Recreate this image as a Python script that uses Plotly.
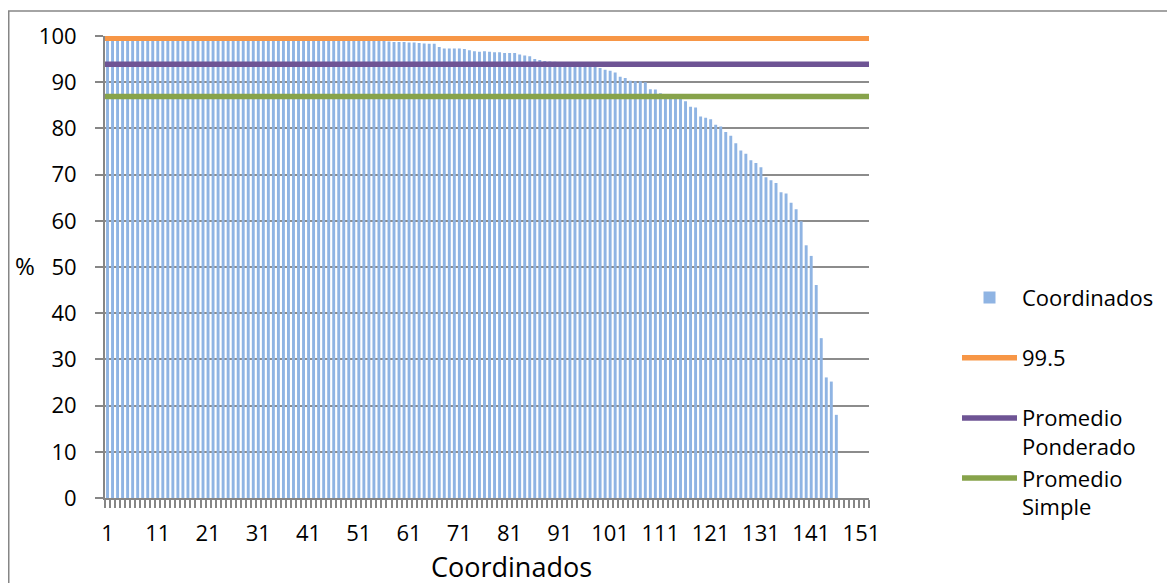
import plotly.graph_objects as go

# ---- data ----
categories = list(range(1, 153))
coordinados = [
    99.2, 99.2, 99.1, 99.1, 99.1, 99.1, 99.1, 99.1, 99.0, 99.0,
    99.0, 99.0, 99.0, 99.0, 99.0, 99.0, 99.0, 99.0, 99.0, 99.0,
    99.0, 99.0, 99.0, 99.0, 99.0, 99.0, 99.0, 99.0, 99.0, 99.0,
    99.0, 99.0, 99.0, 99.0, 98.9, 98.9, 98.9, 98.9, 98.9, 98.9,
    98.9, 98.9, 98.9, 98.9, 98.9, 98.9, 98.9, 98.9, 98.9, 98.9,
    98.9, 98.9, 98.9, 98.9, 98.9, 98.9, 98.8, 98.7, 98.7, 98.7,
    98.6, 98.6, 98.5, 98.4, 98.3, 98.3, 97.6, 97.3, 97.3, 97.3,
    97.3, 97.2, 96.9, 96.7, 96.6, 96.7, 96.6, 96.5, 96.5, 96.3,
    96.3, 96.3, 96.0, 95.8, 95.6, 95.0, 94.8, 94.6, 94.5, 94.4,
    94.2, 94.1, 94.0, 93.9, 93.8, 93.7, 93.5, 93.4, 93.1, 92.7,
    92.5, 92.1, 91.2, 90.9, 90.3, 90.2, 90.2, 90.0, 88.5, 88.4,
    87.6, 87.4, 87.0, 86.8, 86.5, 85.9, 84.7, 84.5, 82.6, 82.3,
    82.0, 80.8, 80.4, 79.2, 78.4, 76.8, 75.2, 74.5, 73.1, 72.5,
    71.6, 69.4, 68.8, 68.2, 66.2, 65.9, 63.9, 62.5, 59.9, 54.7,
    52.4, 46.1, 34.6, 26.1, 25.2, 18.0,
]
ref_value = 99.5
promedio_ponderado = 93.9
promedio_simple = 86.9
x_tick_labels = list(range(1, 152, 10))
y_tick_labels = list(range(0, 101, 10))

FONT = "Open Sans"
x_lo = categories[0] - 0.5
x_hi = categories[-1] + 0.5
line_x = [x_lo, x_hi]

fig = go.Figure()
fig.add_trace(go.Bar(
    x=categories[:len(coordinados)], y=coordinados, name="Coordinados<br>&nbsp;",
    marker=dict(color="#8FB4E3", line=dict(width=0)),
    legendgroup="a",
))
fig.add_trace(go.Scatter(
    x=line_x, y=[ref_value] * 2, mode="lines", name="99.5<br>&nbsp;",
    line=dict(color="#F79646", width=5.5), legendgroup="b",
))
fig.add_trace(go.Scatter(
    x=line_x, y=[promedio_ponderado] * 2, mode="lines", name="Promedio<br>Ponderado",
    line=dict(color="#6E5494", width=5.5), legendgroup="c",
))
fig.add_trace(go.Scatter(
    x=line_x, y=[promedio_simple] * 2, mode="lines", name="Promedio<br>Simple",
    line=dict(color="#87A34B", width=5.5), legendgroup="d",
))

W, H = 1175, 583
L, T = 97, 26
R = W - 861
B = H - 490.5
pw, ph = W - L - R, H - T - B

def px_x(p):
    return (p - L) / pw

def px_y(p):
    return (H - B - p) / ph

fig.update_layout(
    width=W, height=H,
    margin=dict(l=L, r=R, t=T, b=B, pad=0),
    paper_bgcolor="white", plot_bgcolor="white",
    bargap=0.42,
    font=dict(family=FONT, size=22, color="black"),
    showlegend=True,
    legend=dict(
        x=px_x(949), y=px_y(268), xanchor="left", yanchor="top",
        font=dict(family=FONT, size=22, color="black"),
        traceorder="grouped", tracegroupgap=0, itemwidth=55,
        valign="top", bgcolor="rgba(0,0,0,0)",
    ),
    xaxis=dict(
        range=[x_lo, x_hi], tickmode="array", tickvals=x_tick_labels,
        ticktext=[str(v) for v in x_tick_labels],
        ticks="", showgrid=False, zeroline=False,
        showline=True, linecolor="#868686", linewidth=2,
        ticklabelstandoff=15,
        minor=dict(tickmode="array",
                   tickvals=[c - 0.5 for c in categories] + [x_hi],
                   ticks="outside", ticklen=8, tickwidth=1.5, tickcolor="#868686",
                   showgrid=False),
    ),
    yaxis=dict(
        range=[0, 100], tickmode="array", tickvals=y_tick_labels,
        ticks="outside", ticklen=8, tickwidth=1.5, tickcolor="#868686",
        showgrid=True, gridcolor="#8C8C8C", gridwidth=1.6,
        zeroline=False, showline=True, linecolor="#868686", linewidth=2,
        ticklabelstandoff=14,
    ),
    annotations=[
        dict(text="%", xref="paper", yref="paper", x=px_x(17), y=px_y(257),
             showarrow=False, font=dict(family=FONT, size=24),
             xanchor="center", yanchor="middle"),
        dict(text="Coordinados", xref="paper", yref="paper", x=px_x(503), y=px_y(559),
             showarrow=False, font=dict(family=FONT, size=27),
             xanchor="center", yanchor="middle"),
    ],
    shapes=[dict(
        type="rect", xref="paper", yref="paper",
        x0=px_x(0.75), x1=px_x(W + 20), y0=px_y(H + 20), y1=px_y(0.75),
        line=dict(color="#868686", width=1.5), fillcolor="rgba(0,0,0,0)", layer="below",
    )],
)

fig.write_html("out.html")
